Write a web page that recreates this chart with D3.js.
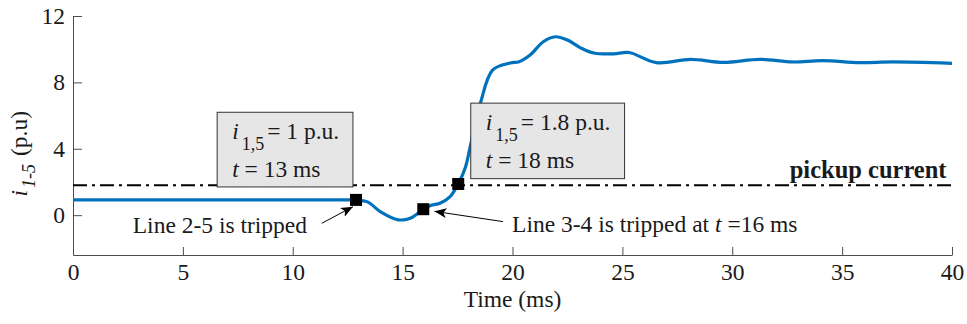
<!DOCTYPE html>
<html>
<head>
<meta charset="utf-8">
<script src="https://cdn.jsdelivr.net/npm/d3@7"></script>
<style>
  body { margin: 0; background: #fff; }
  text { font-family: "Liberation Serif", "DejaVu Serif", serif; fill: #1a1a1a; }
</style>
</head>
<body>
<div id="chart"></div>
<script>
// data
const timeMs = [0, 5, 10, 12.3, 12.8, 13.4, 14.0, 14.8, 15.35, 15.95, 16.3, 16.7, 17.15, 17.53, 17.85, 18.07, 18.37, 18.55,
  19.1, 19.9, 20.3, 20.8, 21.4, 21.95, 22.5, 23.1, 23.7, 24.6, 25.3, 26.55, 28.1, 29.6, 31.25, 32.75, 34.1, 35.8, 37.3, 40];
const current = [0.92, 0.92, 0.92, 0.92, 0.92, 0.8, 0.2, -0.28, -0.18, 0.36, 0.6, 0.72, 1.1, 1.88, 2.85, 4.1, 5.9, 6.8,
  8.75, 9.17, 9.25, 9.65, 10.45, 10.75, 10.55, 10.08, 9.77, 9.72, 9.8, 9.19, 9.39, 9.21, 9.39, 9.23, 9.31, 9.19, 9.23, 9.15];
const markerT = [12.88, 15.94, 17.53];
const markerV = [0.92, 0.36, 1.88];
const pickup = 1.8;
const xTicks = [0, 5, 10, 15, 20, 25, 30, 35, 40];
const yTicks = [0, 4, 8, 12];

const W = 967, H = 324;
const margin = {top: 16, right: 15, bottom: 69, left: 73};
const fs = 23.5;

const x = d3.scaleLinear().domain([0, 40]).range([margin.left, W - margin.right]);
const y = d3.scaleLinear().domain([-2.4, 12]).range([H - margin.bottom, margin.top]);

const svg = d3.select("#chart").append("svg").attr("width", W).attr("height", H);

svg.append("defs").append("marker")
  .attr("id", "head").attr("viewBox", "0 0 12 10").attr("refX", 12).attr("refY", 5)
  .attr("markerWidth", 12).attr("markerHeight", 10).attr("markerUnits", "userSpaceOnUse")
  .attr("orient", "auto")
  .append("path").attr("d", "M0,0 L12,5 L0,10 L3,5 Z").attr("fill", "#000");

// axes, MATLAB style ticks inside
const axisColor = "#4d4d4d";
const gx = svg.append("g").attr("transform", `translate(0,${y.range()[0]})`)
  .call(d3.axisBottom(x).tickValues(xTicks).tickSizeInner(-8).tickSizeOuter(0).tickPadding(8));
const gy = svg.append("g").attr("transform", `translate(${margin.left},0)`)
  .call(d3.axisLeft(y).tickValues(yTicks).tickSizeInner(-9).tickSizeOuter(0).tickPadding(8));
[gx, gy].forEach(g => {
  g.select(".domain").attr("stroke", axisColor);
  g.selectAll(".tick line").attr("stroke", axisColor);
  g.selectAll(".tick text").attr("font-size", fs).attr("fill", "#1a1a1a")
    .attr("font-family", "Liberation Serif");
});

// pickup current line
svg.append("line")
  .attr("x1", x(0)).attr("x2", x(40)).attr("y1", y(pickup)).attr("y2", y(pickup))
  .attr("stroke", "#000").attr("stroke-width", 2).attr("stroke-dasharray", "14,5,3,5");

svg.append("text").attr("x", x(39.75)).attr("y", y(pickup) - 7)
  .attr("text-anchor", "end").attr("font-size", 24.5).attr("font-weight", "bold").text("pickup current");

// current curve
const line = d3.line().x((d, i) => x(timeMs[i])).y(d => y(d)).curve(d3.curveCatmullRom.alpha(0.5));
svg.append("path").datum(current).attr("d", line)
  .attr("fill", "none").attr("stroke", "#0072BD").attr("stroke-width", 3.2);

// annotation boxes
const boxes = [
  {t0: 6.56, t1: 12.74, v0: 1.7, v1: 6.2, val: "1", ms: "13"},
  {t0: 18.1, t1: 25.1, v0: 2.2, v1: 6.75, val: "1.8", ms: "18"}
];
boxes.forEach(b => {
  const g = svg.append("g");
  g.append("rect").attr("x", x(b.t0)).attr("y", y(b.v1))
    .attr("width", x(b.t1) - x(b.t0)).attr("height", y(b.v0) - y(b.v1))
    .attr("fill", "#e6e6e6").attr("stroke", "#333").attr("stroke-width", 1);
  const tx = x(b.t0) + 15;
  const base1 = y(b.v1) + 27;
  const t1 = g.append("text").attr("x", tx).attr("y", base1).attr("font-size", fs);
  t1.append("tspan").attr("font-style", "italic").text("i");
  t1.append("tspan").attr("dy", 11).attr("dx", 3).attr("font-size", 18).text("1,5");
  t1.append("tspan").attr("dy", -11).attr("dx", 3).text("= " + b.val + " p.u.");
  const t2 = g.append("text").attr("x", tx).attr("y", base1 + 38).attr("font-size", fs);
  t2.append("tspan").attr("font-style", "italic").text("t");
  t2.append("tspan").text(" = " + b.ms + " ms");
});

// markers
svg.selectAll("rect.mk").data(markerT).enter().append("rect").attr("class", "mk")
  .attr("x", d => x(d) - 6).attr("y", (d, i) => y(markerV[i]) - 6)
  .attr("width", 12).attr("height", 12).attr("fill", "#000");

// arrows + labels
const arrows = [
  {from: [11.32, -0.49], to: [12.74, 0.51]},
  {from: [19.57, -0.39], to: [16.45, 0.23]}
];
arrows.forEach(a => {
  svg.append("line").attr("x1", x(a.from[0])).attr("y1", y(a.from[1]))
    .attr("x2", x(a.to[0])).attr("y2", y(a.to[1]))
    .attr("stroke", "#000").attr("stroke-width", 1).attr("marker-end", "url(#head)");
});
svg.append("text").attr("x", x(2.72)).attr("y", y(-1.05)).attr("font-size", fs).text("Line 2-5 is tripped");
const l2 = svg.append("text").attr("x", x(19.98)).attr("y", y(-1.0)).attr("font-size", fs);
l2.append("tspan").text("Line 3-4 is tripped at ");
l2.append("tspan").attr("font-style", "italic").text("t");
l2.append("tspan").text(" =16 ms");

// axis labels
svg.append("text").attr("x", (x(0) + x(40)) / 2).attr("y", H - 17)
  .attr("text-anchor", "middle").attr("font-size", fs).text("Time (ms)");
const yl = svg.append("text").attr("transform", `translate(27,${y(3.7)}) rotate(-90)`)
  .attr("text-anchor", "middle").attr("font-size", fs);
yl.append("tspan").attr("font-style", "italic").text("i");
yl.append("tspan").attr("font-style", "italic").attr("font-size", 18).attr("dy", 8).attr("dx", 2).text("1-5");
yl.append("tspan").attr("dy", -8).attr("dx", 8).text("(p.u)");
</script>
</body>
</html>
